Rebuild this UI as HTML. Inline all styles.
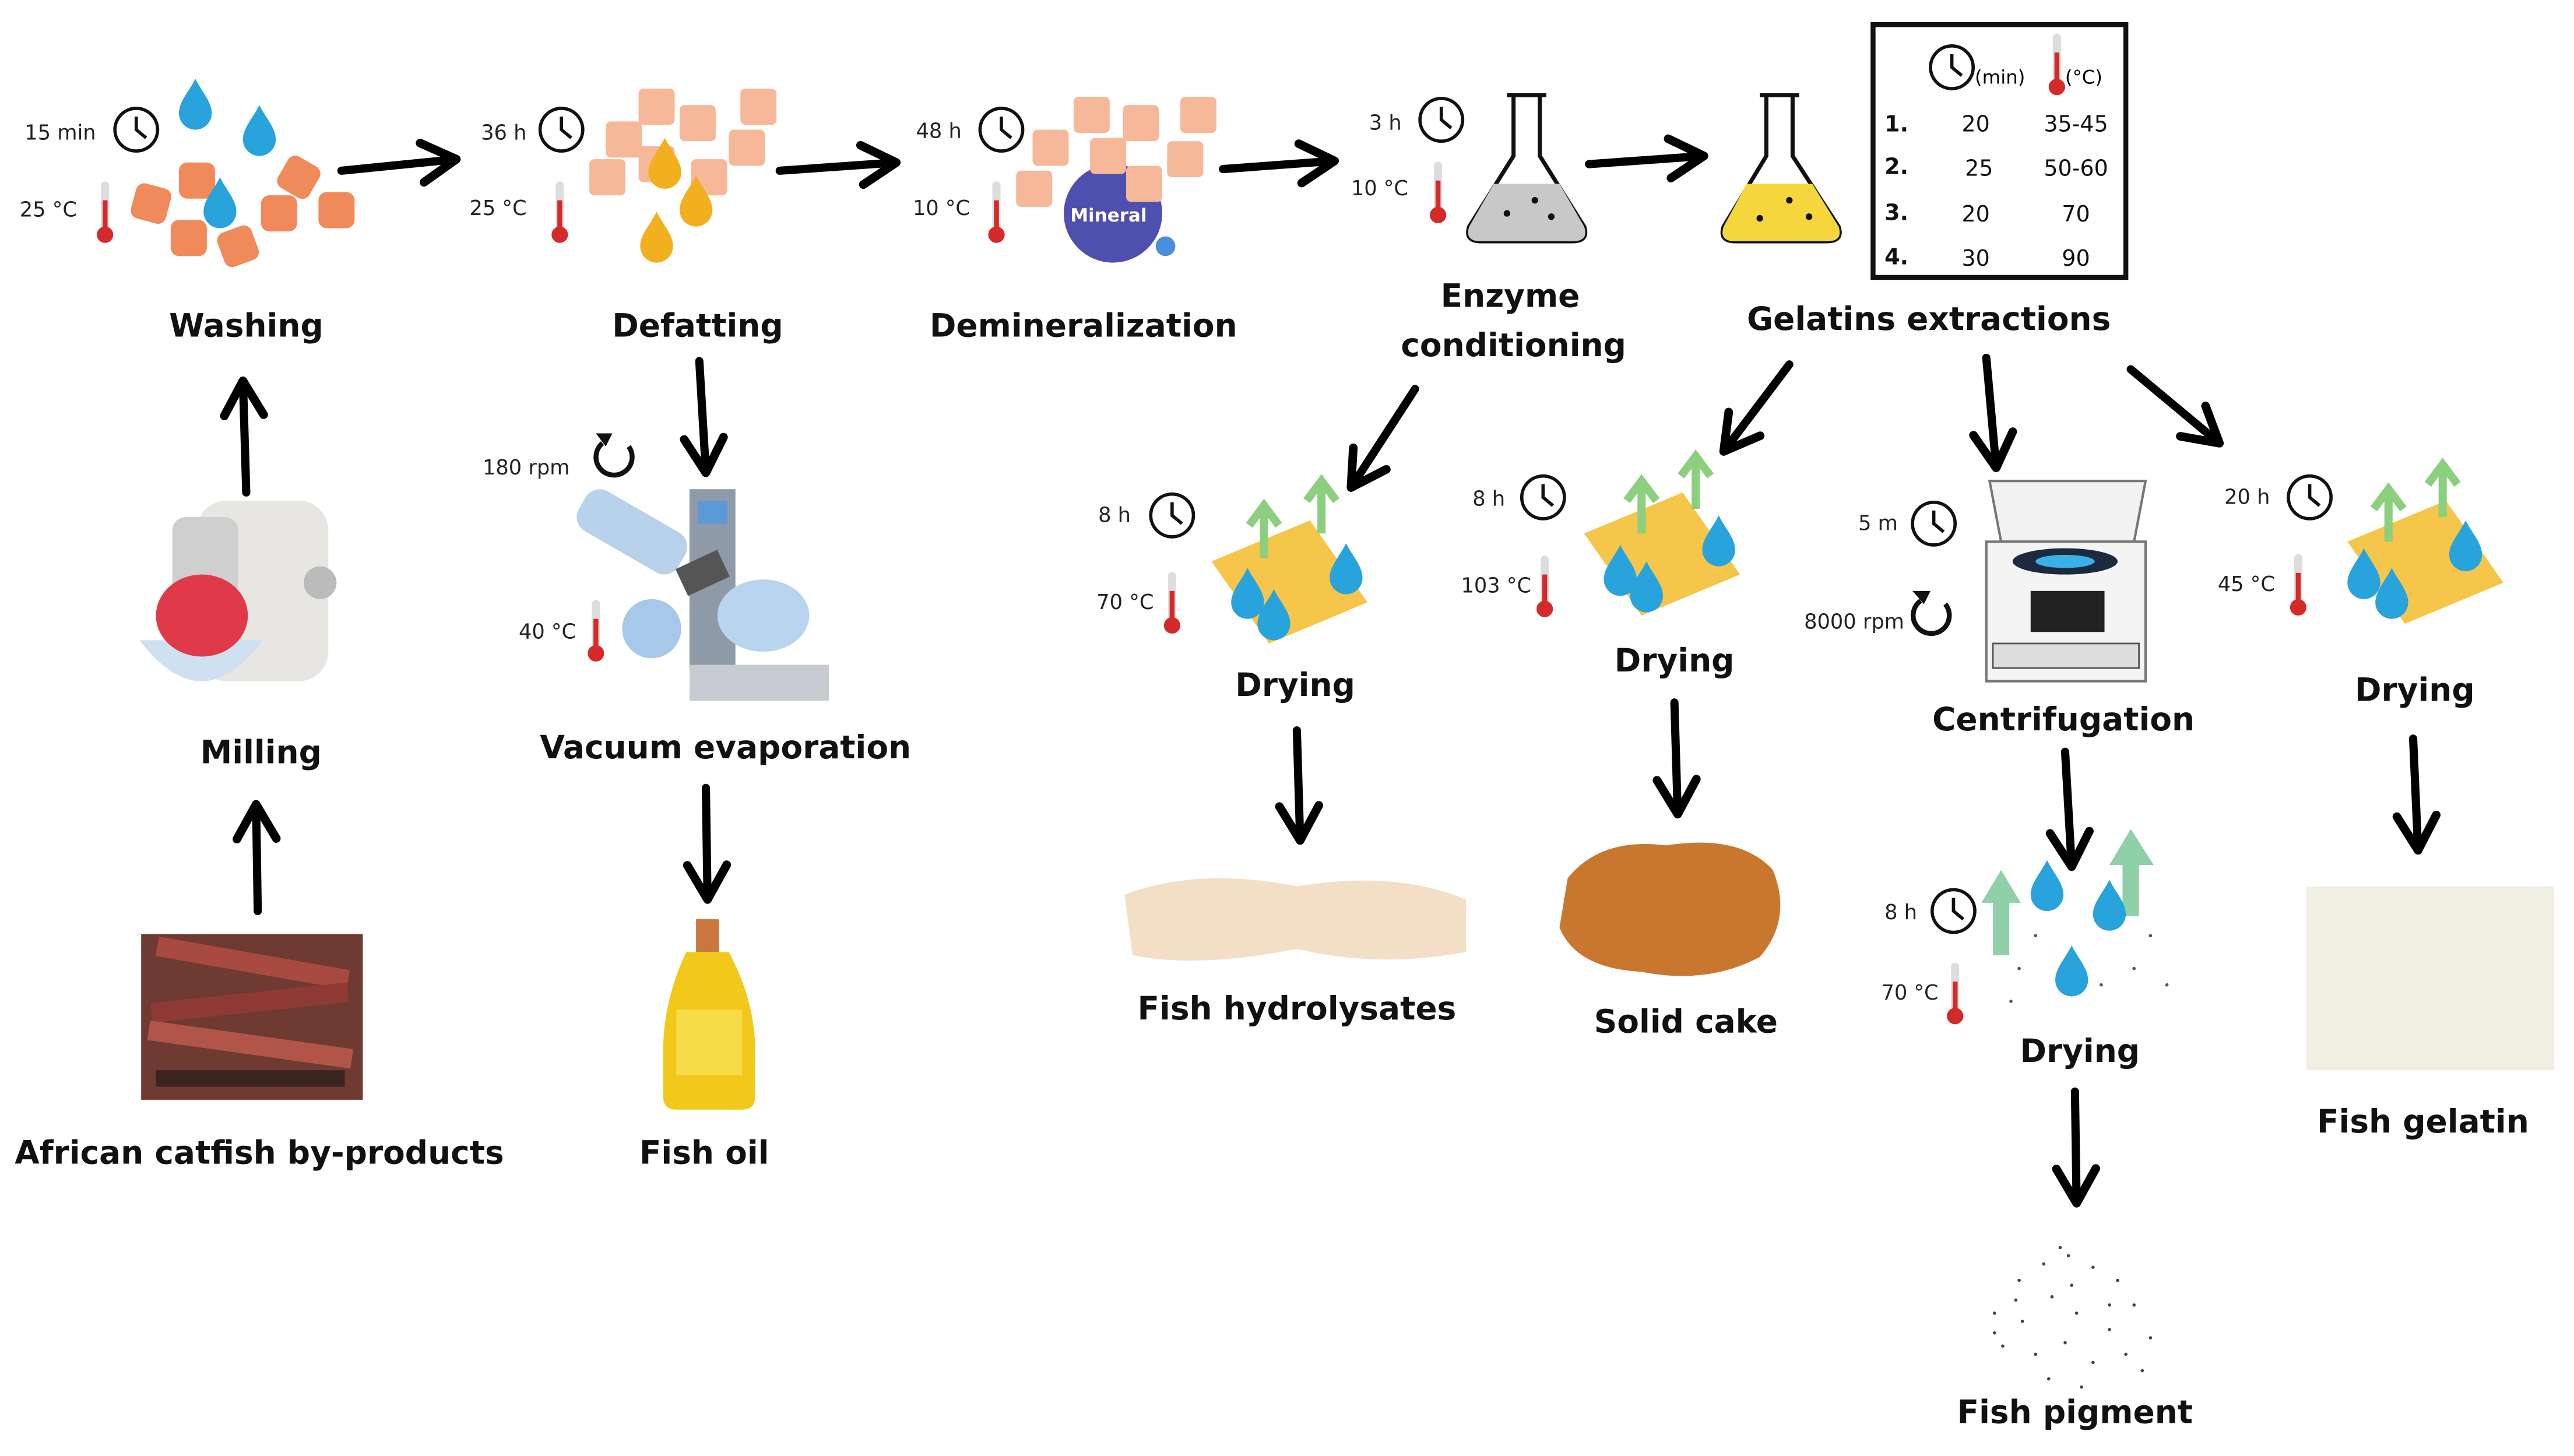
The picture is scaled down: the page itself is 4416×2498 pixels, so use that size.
<!DOCTYPE html>
<html><head><meta charset="utf-8"><style>
html,body{margin:0;padding:0;background:#fff;}
svg{display:block;}
text{font-family:"DejaVu Sans","Liberation Sans",sans-serif;}
.lb{font-weight:bold;font-size:19.5px;fill:#111;text-anchor:middle;}
.sm{font-size:12.5px;fill:#222;}
.tb{font-size:13.5px;fill:#111;}
</style></head><body>
<svg width="4416" height="2498" viewBox="0 0 1568 887" preserveAspectRatio="none" xmlns="http://www.w3.org/2000/svg">
<defs>
<marker id="ah" viewBox="0 0 20 20" refX="17" refY="10" markerWidth="30" markerHeight="30" markerUnits="userSpaceOnUse" orient="auto">
<path d="M3,2 L17,10 L3,18" fill="none" stroke="#000" stroke-width="3.5" stroke-linejoin="round" stroke-linecap="round"/>
</marker>
<g id="clk"><circle r="13" fill="#fff" stroke="#111" stroke-width="2"/><path d="M0,-8 L0,0 L6,5" fill="none" stroke="#111" stroke-width="2"/></g>
<g id="thm"><line x1="0" y1="-17" x2="0" y2="10" stroke="#ddd" stroke-width="5" stroke-linecap="round"/><line x1="0" y1="-8" x2="0" y2="10" stroke="#d42a2a" stroke-width="3"/><circle cy="13" r="5" fill="#d42a2a"/></g>
<path id="drop" d="M0,-16 C4,-8 10,-2 10,5 A10,10 0 0 1 -10,5 C-10,-2 -4,-8 0,-16Z" fill="#29a3dc"/>
<path id="odrop" d="M0,-16 C4,-8 10,-2 10,5 A10,10 0 0 1 -10,5 C-10,-2 -4,-8 0,-16Z" fill="#f2b01e"/>
<rect id="fish" x="-11" y="-11" width="22" height="22" rx="5" fill="#f08a5a"/>
<rect id="cube" x="-11" y="-11" width="22" height="22" rx="3" fill="#f7b89a"/>
<g id="gar"><line x1="0" y1="30" x2="0" y2="0" stroke="#8ccf7e" stroke-width="5"/><path d="M-9,10 L0,-2 L9,10" fill="none" stroke="#8ccf7e" stroke-width="5"/></g>
<g id="tray"><path d="M-40,-10 L20,-35 L55,15 L-5,40Z" fill="#f6c64a"/></g>
</defs>

<g stroke="#000" stroke-width="5" stroke-linecap="round" fill="none" marker-end="url(#ah)">
<path d="M208,104 L278,97"/>
<path d="M475,104 L546,99"/>
<path d="M745,103 L813,98"/>
<path d="M968,100 L1038,95"/>
<path d="M150,300 L148,232"/>
<path d="M157,555 L156,490"/>
<path d="M426,220 L430,288"/>
<path d="M430,480 L431,548"/>
<path d="M790,445 L792,512"/>
<path d="M1020,428 L1022,496"/>
<path d="M1258,458 L1262,528"/>
<path d="M1264,665 L1265,733"/>
<path d="M1470,450 L1473,518"/>
<path d="M862,237 L823,297"/>
<path d="M1090,222 L1050,275"/>
<path d="M1210,218 L1216,285"/>
<path d="M1298,225 L1352,270"/>
</g>

<!-- Washing -->
<text class="sm" x="15" y="85">15 min</text><use href="#clk" x="83" y="79"/>
<text class="sm" x="12" y="132">25 °C</text><use href="#thm" x="64" y="130"/>
<use href="#fish" x="92" y="124" transform="rotate(15 92 124)"/><use href="#fish" x="115" y="145"/><use href="#fish" x="145" y="150" transform="rotate(-20 145 150)"/><use href="#fish" x="170" y="130"/><use href="#fish" x="182" y="108" transform="rotate(30 182 108)"/><use href="#fish" x="205" y="128"/><use href="#fish" x="120" y="110"/>
<use href="#drop" x="119" y="64"/><use href="#drop" x="158" y="80"/><use href="#drop" x="134" y="124"/>
<text class="lb" x="150" y="205">Washing</text>

<!-- Defatting -->
<text class="sm" x="293" y="85">36 h</text><use href="#clk" x="342" y="79"/>
<text class="sm" x="286" y="131">25 °C</text><use href="#thm" x="341" y="130"/>
<use href="#cube" x="400" y="65"/><use href="#cube" x="425" y="75"/><use href="#cube" x="462" y="65"/><use href="#cube" x="380" y="85"/><use href="#cube" x="455" y="90"/><use href="#cube" x="370" y="108"/><use href="#cube" x="432" y="108"/><use href="#cube" x="400" y="100"/>
<use href="#odrop" x="405" y="100"/><use href="#odrop" x="424" y="123"/><use href="#odrop" x="400" y="145"/>
<text class="lb" x="425" y="205">Defatting</text>

<!-- Demineralization -->
<text class="sm" x="558" y="84">48 h</text><use href="#clk" x="610" y="79"/>
<text class="sm" x="556" y="131">10 °C</text><use href="#thm" x="607" y="130"/>
<circle cx="678" cy="130" r="30" fill="#4f4fb0"/>
<text x="652" y="135" style="font-size:11px;fill:#fff;font-weight:bold">Mineral</text>
<circle cx="710" cy="150" r="6" fill="#4a8ee0"/>
<use href="#cube" x="665" y="70"/><use href="#cube" x="695" y="75"/><use href="#cube" x="730" y="70"/><use href="#cube" x="640" y="90"/><use href="#cube" x="722" y="97"/><use href="#cube" x="630" y="115"/><use href="#cube" x="697" y="112"/><use href="#cube" x="675" y="95"/>
<text class="lb" x="660" y="205">Demineralization</text>

<!-- Enzyme -->
<text class="sm" x="834" y="79">3 h</text><use href="#clk" x="878" y="73"/>
<text class="sm" x="823" y="119">10 °C</text><use href="#thm" x="876" y="118"/>
<path d="M918,58 L942,58 M922,58 L922,95 L895,138 Q892,147 902,147 L958,147 Q968,147 965,138 L938,95 L938,58" fill="#fff" stroke="#111" stroke-width="2.5"/>
<path d="M910,112 L950,112 L965,138 Q968,147 958,147 L902,147 Q892,147 895,138Z" fill="#c8c8c8"/>
<circle cx="918" cy="130" r="2" fill="#111"/><circle cx="935" cy="122" r="2" fill="#111"/><circle cx="945" cy="132" r="2" fill="#111"/>
<text class="lb" x="920" y="187">Enzyme</text><text class="lb" x="922" y="217">conditioning</text>

<!-- Gelatin flask -->
<path d="M1072,58 L1096,58 M1076,58 L1076,95 L1050,138 Q1047,147 1057,147 L1113,147 Q1123,147 1120,138 L1092,95 L1092,58" fill="#fff" stroke="#111" stroke-width="2.5"/>
<path d="M1064,112 L1104,112 L1120,138 Q1123,147 1113,147 L1057,147 Q1047,147 1050,138Z" fill="#f5d63c"/>
<circle cx="1072" cy="133" r="2" fill="#111"/><circle cx="1090" cy="122" r="2" fill="#111"/><circle cx="1102" cy="132" r="2" fill="#111"/>

<!-- Table -->
<rect x="1141" y="15" width="154" height="154" fill="#fff" stroke="#111" stroke-width="3"/>
<use href="#clk" x="1189" y="41"/><text x="1203" y="51" style="font-size:11.5px">(min)</text>
<use href="#thm" x="1253" y="40"/><text x="1258" y="51" style="font-size:11.5px">(°C)</text>
<g class="tb"><text x="1148" y="80" font-weight="bold">1.</text><text x="1195" y="80">20</text><text x="1245" y="80">35-45</text>
<text x="1148" y="106" font-weight="bold">2.</text><text x="1197" y="107">25</text><text x="1245" y="107">50-60</text>
<text x="1148" y="134" font-weight="bold">3.</text><text x="1195" y="135">20</text><text x="1256" y="135">70</text>
<text x="1148" y="161" font-weight="bold">4.</text><text x="1195" y="162">30</text><text x="1256" y="162">90</text></g>
<text class="lb" x="1175" y="201">Gelatins extractions</text>

<!-- Milling -->
<rect x="120" y="305" width="80" height="110" rx="18" fill="#e8e6e2"/>
<rect x="105" y="315" width="40" height="50" rx="8" fill="#cfcfcf"/>
<circle cx="195" cy="355" r="10" fill="#bbb"/>
<path d="M85,390 Q123,440 160,390Z" fill="#cfe0f0"/>
<ellipse cx="123" cy="375" rx="28" ry="25" fill="#e03a4a"/>
<text class="lb" x="159" y="465">Milling</text>

<!-- Catfish photo -->
<rect x="86" y="569" width="135" height="101" fill="#6e3a32"/>
<rect x="95" y="580" width="118" height="12" fill="#a94a40" transform="rotate(10 150 586)"/>
<rect x="92" y="605" width="120" height="12" fill="#8f3a35" transform="rotate(-6 150 611)"/>
<rect x="90" y="630" width="125" height="12" fill="#b05548" transform="rotate(8 150 636)"/>
<rect x="95" y="652" width="115" height="10" fill="#3a2420"/>
<text class="lb" x="158" y="709">African catfish by-products</text>

<!-- Vacuum evaporation -->
<text class="sm" x="294" y="289">180 rpm</text>
<path d="M383,272 A11,11 0 1 1 367,270" fill="none" stroke="#111" stroke-width="3"/><path d="M363,264 L369,272 L373,264" fill="#111"/>
<rect x="420" y="298" width="28" height="110" fill="#8e9aa8"/><rect x="425" y="305" width="18" height="14" fill="#5b9ad6"/>
<rect x="420" y="405" width="85" height="22" fill="#c8ccd2"/>
<rect x="350" y="310" width="70" height="28" rx="10" fill="#b8d2ec" transform="rotate(30 385 324)"/>
<circle cx="397" cy="383" r="18" fill="#a8c8ea"/>
<ellipse cx="465" cy="375" rx="28" ry="22" fill="#b8d4ee"/>
<rect x="414" y="340" width="28" height="18" fill="#555" transform="rotate(-25 428 349)"/>
<text class="sm" x="316" y="389">40 °C</text><use href="#thm" x="363" y="385"/>
<text class="lb" x="442" y="462">Vacuum evaporation</text>

<!-- Fish oil -->
<rect x="424" y="560" width="14" height="20" fill="#c9773c"/>
<path d="M418,580 L444,580 Q460,610 460,640 L460,668 Q460,676 452,676 L412,676 Q404,676 404,668 L404,640 Q404,610 418,580Z" fill="#f2c81a"/>
<rect x="412" y="615" width="40" height="40" fill="#f7dc4a"/>
<text class="lb" x="429" y="709">Fish oil</text>

<!-- Drying 1 -->
<text class="sm" x="669" y="318">8 h</text><use href="#clk" x="714" y="314"/>
<text class="sm" x="668" y="371">70 °C</text><use href="#thm" x="714" y="368"/>
<use href="#tray" x="778" y="352"/>
<use href="#gar" x="770" y="310"/><use href="#gar" x="805" y="295"/>
<use href="#drop" x="760" y="362"/><use href="#drop" x="776" y="375"/><use href="#drop" x="820" y="347"/>
<text class="lb" x="789" y="424">Drying</text>
<path d="M685,545 Q730,528 790,540 Q850,530 893,548 L893,580 Q840,590 790,578 Q730,590 690,582Z" fill="#f2dfc6"/>
<text class="lb" x="790" y="621">Fish hydrolysates</text>

<!-- Drying 2 -->
<text class="sm" x="897" y="308">8 h</text><use href="#clk" x="940" y="303"/>
<text class="sm" x="890" y="361">103 °C</text><use href="#thm" x="941" y="358"/>
<use href="#tray" x="1005" y="335"/>
<use href="#gar" x="1000" y="295"/><use href="#gar" x="1033" y="280"/>
<use href="#drop" x="987" y="348"/><use href="#drop" x="1003" y="358"/><use href="#drop" x="1047" y="330"/>
<text class="lb" x="1020" y="409">Drying</text>
<path d="M955,535 Q975,510 1015,515 Q1060,508 1080,530 Q1092,560 1072,583 Q1040,600 1000,592 Q960,590 950,565Z" fill="#c9772e"/>
<text class="lb" x="1027" y="629">Solid cake</text>

<!-- Centrifugation -->
<text class="sm" x="1132" y="323">5 m</text><use href="#clk" x="1178" y="319"/>
<text class="sm" x="1099" y="383">8000 rpm</text>
<path d="M1185,368 A11,11 0 1 1 1170,366" fill="none" stroke="#111" stroke-width="3"/><path d="M1165,360 L1172,368 L1176,360" fill="#111"/>
<path d="M1212,293 L1307,293 L1300,330 L1219,330Z" fill="#f2f2f2" stroke="#777" stroke-width="1.5"/>
<rect x="1210" y="330" width="97" height="85" fill="#f4f4f4" stroke="#777" stroke-width="1.5"/>
<ellipse cx="1258" cy="342" rx="32" ry="8" fill="#1c2a40"/><ellipse cx="1258" cy="342" rx="18" ry="4" fill="#3ab0e8"/>
<rect x="1237" y="360" width="45" height="25" fill="#222"/>
<rect x="1214" y="392" width="89" height="15" fill="#ddd" stroke="#555" stroke-width="1"/>
<text class="lb" x="1257" y="445">Centrifugation</text>

<!-- Drying 3 -->
<text class="sm" x="1148" y="560">8 h</text><use href="#clk" x="1190" y="555"/>
<text class="sm" x="1146" y="609">70 °C</text><use href="#thm" x="1191" y="606"/>
<g fill="#8fd0a8"><rect x="1214" y="548" width="10" height="34"/><path d="M1207,550 L1219,530 L1231,550Z"/>
<rect x="1293" y="524" width="10" height="34"/><path d="M1285,527 L1298,505 L1312,527Z"/></g>
<use href="#drop" x="1247" y="540"/><use href="#drop" x="1285" y="552"/><use href="#drop" x="1262" y="592"/>
<g fill="#555"><circle cx="1230" cy="590" r="1"/><circle cx="1240" cy="570" r="1"/><circle cx="1300" cy="590" r="1"/><circle cx="1310" cy="570" r="1"/><circle cx="1280" cy="600" r="1"/><circle cx="1225" cy="610" r="1"/><circle cx="1320" cy="600" r="1"/></g>
<text class="lb" x="1267" y="647">Drying</text>
<g fill="#444">
<circle cx="1230" cy="780" r="1"/><circle cx="1245" cy="770" r="1"/><circle cx="1260" cy="765" r="1"/><circle cx="1275" cy="772" r="1"/><circle cx="1290" cy="780" r="1"/><circle cx="1300" cy="795" r="1"/><circle cx="1215" cy="800" r="1"/><circle cx="1232" cy="805" r="1"/><circle cx="1250" cy="790" r="1"/><circle cx="1265" cy="800" r="1"/><circle cx="1285" cy="810" r="1"/><circle cx="1310" cy="815" r="1"/><circle cx="1220" cy="820" r="1"/><circle cx="1240" cy="825" r="1"/><circle cx="1258" cy="818" r="1"/><circle cx="1275" cy="830" r="1"/><circle cx="1295" cy="825" r="1"/><circle cx="1248" cy="840" r="1"/><circle cx="1268" cy="845" r="1"/><circle cx="1285" cy="795" r="1"/><circle cx="1262" cy="783" r="1"/><circle cx="1228" cy="792" r="1"/><circle cx="1305" cy="835" r="1"/><circle cx="1215" cy="812" r="1"/><circle cx="1255" cy="760" r="1"/>
</g>
<text class="lb" x="1264" y="867">Fish pigment</text>

<!-- Drying 4 -->
<text class="sm" x="1355" y="307">20 h</text><use href="#clk" x="1407" y="303"/>
<text class="sm" x="1351" y="360">45 °C</text><use href="#thm" x="1400" y="357"/>
<use href="#tray" x="1470" y="340"/>
<use href="#gar" x="1455" y="300"/><use href="#gar" x="1488" y="285"/>
<use href="#drop" x="1440" y="350"/><use href="#drop" x="1457" y="362"/><use href="#drop" x="1502" y="333"/>
<text class="lb" x="1471" y="427">Drying</text>
<rect x="1405" y="540" width="151" height="112" fill="#f1efe2"/>
<text class="lb" x="1476" y="690">Fish gelatin</text>
</svg>
</body></html>
